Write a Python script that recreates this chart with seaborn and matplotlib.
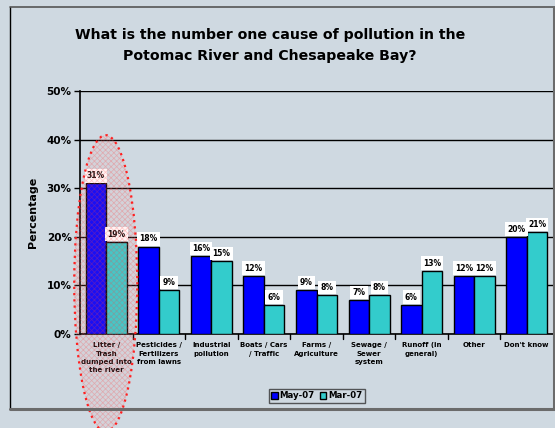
import matplotlib
matplotlib.use("Agg")
import matplotlib.pyplot as plt
import seaborn as sns
import pandas as pd
from matplotlib.patches import Ellipse
from matplotlib.lines import Line2D

categories = ["Litter /\nTrash\ndumped into\nthe river", "Pesticides /\nFertilizers\nfrom lawns",
              "Industrial\npollution", "Boats / Cars\n/ Traffic", "Farms /\nAgriculture",
              "Sewage /\nSewer\nsystem", "Runoff (in\ngeneral)", "Other", "Don't know"]
may07 = [31, 18, 16, 12, 9, 7, 6, 12, 20]
mar07 = [19, 9, 15, 6, 8, 8, 13, 12, 21]
series = ["May-07", "Mar-07"]
yticks = [0, 10, 20, 30, 40, 50]
title = "What is the number one cause of pollution in the\nPotomac River and Chesapeake Bay?"

df = pd.DataFrame({
    "cat": categories * 2,
    "val": may07 + mar07,
    "series": [series[0]] * len(categories) + [series[1]] * len(categories),
})

BG = "#cfd9e1"
sns.set_theme(style="white")
plt.rcParams["font.family"] = ["DejaVu Sans"]
plt.rcParams["hatch.linewidth"] = 0.5
for k in ["text.color", "axes.labelcolor", "xtick.color", "ytick.color"]:
    plt.rcParams[k] = "black"

fig = plt.figure(figsize=(5.55, 4.28), dpi=100, facecolor=BG)
W, H = 555, 428
ax = fig.add_axes([80 / W, 1 - 334 / H, (553 - 80) / W, (334 - 91) / H])
ax.set_facecolor(BG)

sns.barplot(data=df, x="cat", y="val", hue="series", order=categories, hue_order=series,
            palette={"May-07": "#0000ff", "Mar-07": "#33cccc"}, width=0.78,
            edgecolor="black", linewidth=1.0, saturation=1, ax=ax, legend=True, zorder=3)

ax.set_ylim(0, 50)
ax.set_xlim(-0.5, len(categories) - 0.5)
ax.set_yticks(yticks)
ax.set_yticklabels([f"{v}%" for v in yticks], fontsize=7.5, fontweight="bold")
ax.set_xticks(range(len(categories)))
ax.set_xticklabels(categories, fontsize=5, fontweight="bold", linespacing=1.45)
ax.tick_params(axis="x", length=0, pad=6)
ax.tick_params(axis="y", length=4, width=1, color="black", direction="out", left=True, pad=2)
for b in [i + 0.5 for i in range(len(categories) - 1)]:
    ax.plot([b, b], [0, -1.0], color="black", lw=1, clip_on=False)
ax.grid(axis="y", color="black", lw=1.0)
ax.set_axisbelow(True)
for s in ["top", "right"]:
    ax.spines[s].set_visible(False)
ax.spines["left"].set_color("black")
ax.spines["bottom"].set_color("black")
ax.spines["left"].set_linewidth(1.2)
ax.spines["bottom"].set_linewidth(1.2)
ax.set_xlabel("")
ax.set_ylabel("Percentage", fontsize=8, fontweight="bold", labelpad=6)

for cont in ax.containers:
    for bar in cont:
        h = bar.get_height()
        ax.annotate(f"{h:.0f}%", (bar.get_x() + bar.get_width() / 2, h), xytext=(0, 2.2),
                    textcoords="offset points", ha="center", va="bottom", fontsize=5.5,
                    fontweight="bold", zorder=5,
                    bbox=dict(boxstyle="square,pad=0.3", fc="white", ec="none"))

leg = ax.legend(loc="center", bbox_to_anchor=(317 / W, 1 - 396 / H), bbox_transform=fig.transFigure,
                ncol=2, frameon=True, fancybox=False, edgecolor="#333333",
                handlelength=0.7, handleheight=0.7, handletextpad=0.25, columnspacing=0.6,
                borderpad=0.3, prop={"weight": "bold", "size": 6.2})
leg.get_frame().set_facecolor(BG)
leg.get_frame().set_linewidth(1.0)

# highlight ellipse around first category
ell_fill = Ellipse((-0.01, 10.4), 1.2, 61, facecolor=(1, 0.6, 0.6, 0.10),
                   edgecolor=(1, 0.25, 0.25, 0.28), hatch="xxxxxx", lw=0, zorder=10, clip_on=False)
ax.add_patch(ell_fill)
ell_edge = Ellipse((-0.01, 10.4), 1.2, 61, facecolor="none", edgecolor="#ff2020",
                   lw=1.6, linestyle=(0, (1, 1.8)), zorder=11, clip_on=False)
ax.add_patch(ell_edge)

fig.text(270 / W, 1 - 45.5 / H, title, ha="center", va="center", fontsize=10.2,
         fontweight="bold", linespacing=1.6)

# outer chart border
fig.add_artist(Line2D([10 / W, 10 / W], [1 - 409 / H, 1 - 7 / H], color="black", lw=1, transform=fig.transFigure))
fig.add_artist(Line2D([10 / W, 554 / W], [1 - 7 / H, 1 - 7 / H], color="#555555", lw=1.2, transform=fig.transFigure))
fig.add_artist(Line2D([10 / W, 555 / W], [1 - 409 / H, 1 - 409 / H], color="#6b6b6b", lw=2.2, transform=fig.transFigure))
fig.add_artist(Line2D([554 / W, 554 / W], [1 - 409 / H, 1 - 7 / H], color="#6b6b6b", lw=2.2, transform=fig.transFigure))

fig.savefig("out.png", dpi=100, facecolor=BG)
